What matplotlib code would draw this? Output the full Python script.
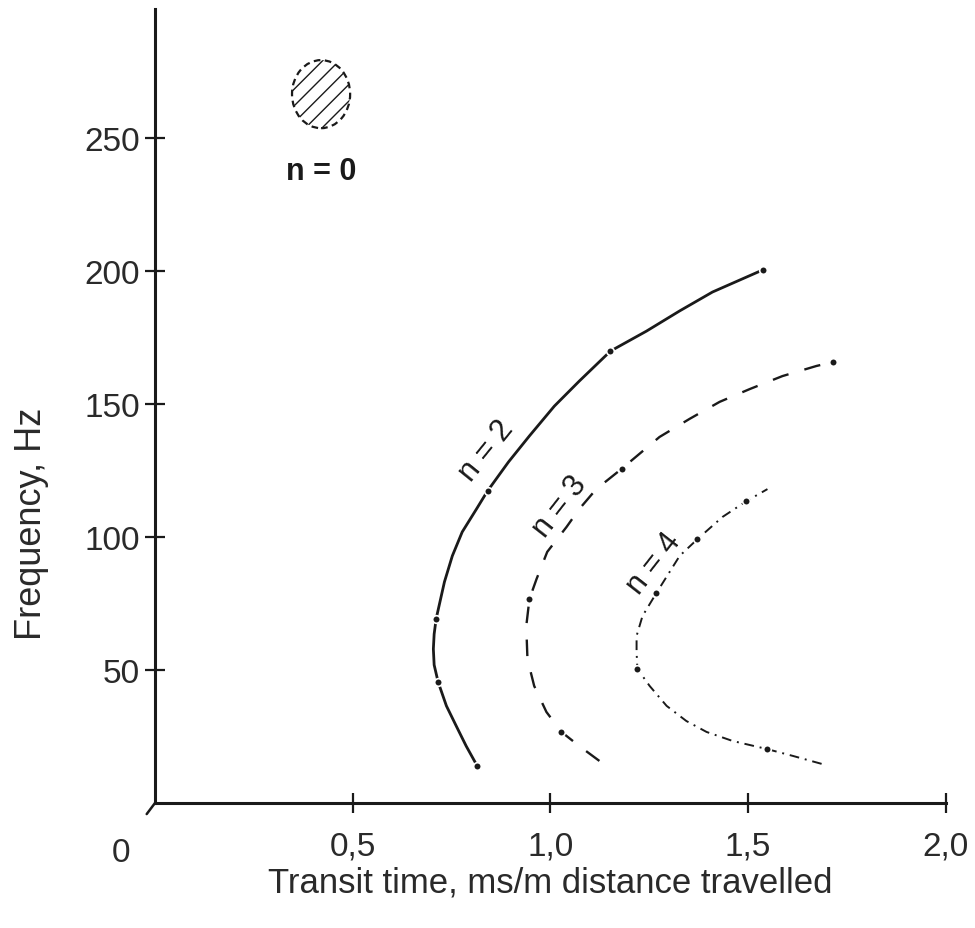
import matplotlib
matplotlib.use("Agg")
import matplotlib.pyplot as plt
from matplotlib.patches import Ellipse

plt.rcParams['font.family'] = ['Liberation Sans', 'DejaVu Sans']
plt.rcParams['hatch.linewidth'] = 1.0

# Dispersion curves: transit time (ms/m) vs frequency (Hz) for each mode n
n2_time = [0.815, 0.787, 0.762, 0.737, 0.716, 0.706, 0.704, 0.706, 0.711, 0.732,
           0.752, 0.777, 0.813, 0.841, 0.894, 0.947, 1.010, 1.073, 1.152, 1.243,
           1.327, 1.410, 1.537]
n2_freq = [13.9, 21.4, 28.9, 36.5, 45.5, 51.9, 57.9, 63.5, 69.2, 83.1,
           92.9, 101.9, 110.5, 117.3, 128.2, 138.0, 149.2, 158.6, 169.9, 177.4,
           185.0, 192.1, 200.4]
n2_dots = [0, 4, 8, 13, 18, 22]

n3_time = [1.124, 1.073, 1.028, 0.990, 0.959, 0.942, 0.939, 0.947, 0.965, 0.992,
           1.041, 1.073, 1.116, 1.180, 1.276, 1.352, 1.428, 1.504, 1.587, 1.673,
           1.716]
n3_freq = [15.8, 21.4, 26.7, 34.2, 44.0, 54.1, 66.5, 76.7, 84.2, 94.4,
           103.8, 110.5, 118.0, 125.6, 137.6, 144.4, 150.8, 155.6, 160.5, 164.3,
           165.8]
n3_dots = [2, 7, 13, 20]

n4_time = [1.686, 1.613, 1.547, 1.461, 1.395, 1.344, 1.294, 1.251, 1.220, 1.218,
           1.218, 1.233, 1.268, 1.327, 1.372, 1.435, 1.496, 1.549]
n4_freq = [14.7, 17.7, 20.3, 23.3, 26.7, 30.8, 36.5, 44.0, 50.4, 56.8,
           62.8, 70.3, 78.9, 92.9, 99.2, 107.5, 113.5, 118.0]
n4_dots = [2, 8, 12, 14, 16]

# Mode n = 0 region (centre, width, height in data units)
n0_centre = (0.420, 266.5)
n0_size = (0.147, 25.6)

x_ticks = [0.5, 1.0, 1.5, 2.0]
x_ticklabels = ["0,5", "1,0", "1,5", "2,0"]
y_ticks = [50, 100, 150, 200, 250]
y_ticklabels = ["50", "100", "150", "200", "250"]

ink = "#1a1a1a"
text_col = "#2a2a2a"

fig = plt.figure(figsize=(9.75, 9.29), dpi=100)
ax = fig.add_axes([0.159, 0.1346, 0.811, 0.8546])
ax.set_xlim(0, 2.0)
ax.set_ylim(0, 298.5)

ax.spines['top'].set_visible(False)
ax.spines['right'].set_visible(False)
for s in ('left', 'bottom'):
    ax.spines[s].set_linewidth(2.2)
    ax.spines[s].set_color(ink)

ax.set_xticks(x_ticks)
ax.set_xticklabels(x_ticklabels)
ax.set_yticks(y_ticks)
ax.set_yticklabels(y_ticklabels)
ax.tick_params(axis='both', direction='inout', length=14, width=1.6,
               color=ink, labelsize=24, labelcolor=text_col)
ax.tick_params(axis='x', pad=13)
ax.tick_params(axis='y', pad=4)

# Origin label shared by both axes
ax.text(-0.086, -0.043, "0", transform=ax.get_xaxis_transform(),
        ha='center', va='top', fontsize=24, color=text_col)
# Small stub at the origin corner
ax.annotate('', xy=(0, 0), xytext=(-6, -8), textcoords='offset points',
            xycoords='data', annotation_clip=False,
            arrowprops=dict(arrowstyle='-', lw=1.8, color=ink,
                            shrinkA=0, shrinkB=0))

ax.set_xlabel("Transit time, ms/m distance travelled", fontsize=25,
              color=text_col, labelpad=3)
ax.set_ylabel("Frequency, Hz", fontsize=26, color=text_col)
ax.yaxis.set_label_coords(-0.134, 0.353)

mk = dict(marker='o', markersize=5.5, markerfacecolor=ink,
          markeredgecolor='white', markeredgewidth=1.2)

ax.plot(n2_time, n2_freq, color=ink, lw=2.0, ls='-',
        markevery=n2_dots, **mk)
ax.plot(n3_time, n3_freq, color=ink, lw=1.7, ls=(0, (7, 7)),
        markevery=n3_dots, **mk)
ax.plot(n4_time, n4_freq, color=ink, lw=1.4, ls=(0, (5, 3, 1, 3)),
        markevery=n4_dots, **mk)

# Mode labels written along the curves
ax.text(0.838, 132.7, "n = 2", rotation=51, ha='center', va='center',
        fontsize=22, color=ink, rotation_mode='anchor')
ax.text(1.023, 111.7, "n = 3", rotation=52, ha='center', va='center',
        fontsize=22, color=ink, rotation_mode='anchor')
ax.text(1.263, 90.2, "n = 4", rotation=52, ha='center', va='center',
        fontsize=22, color=ink, rotation_mode='anchor')

# Mode n = 0: hatched region with dashed outline
ax.add_patch(Ellipse(n0_centre, n0_size[0], n0_size[1], fill=False,
                     hatch='//', edgecolor=ink, lw=1.6, ls=(0, (3, 2))))
ax.text(n0_centre[0], 237.6, "n = 0", ha='center', va='center',
        fontsize=22, fontweight='bold', color=ink)

fig.savefig("out.png", dpi=100, facecolor='white')
